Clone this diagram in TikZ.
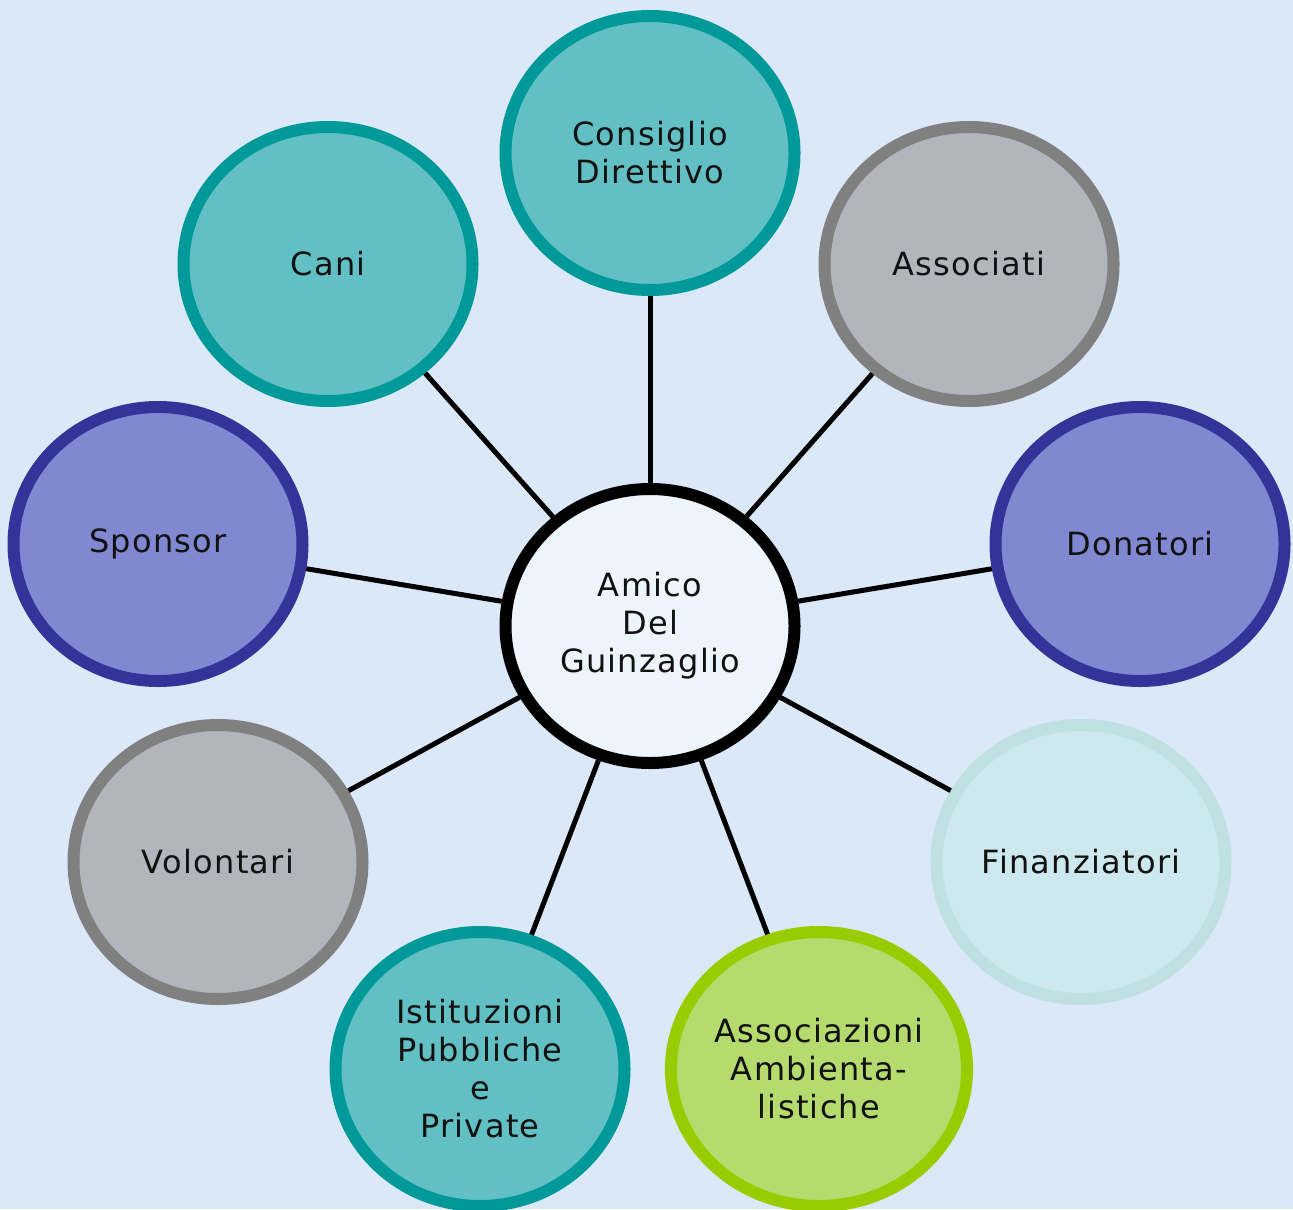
\documentclass[tikz,border=0pt]{standalone}
\usepackage{fontspec}
\setmainfont{DejaVu Sans}[LetterSpace=4]
\usetikzlibrary{shapes.geometric}
\definecolor{bg}{HTML}{DAE8F7}
\definecolor{tealB}{HTML}{009999}
\definecolor{tealF}{HTML}{62C0C4}
\definecolor{grayB}{HTML}{808080}
\definecolor{grayF}{HTML}{B2B6BC}
\definecolor{blueB}{HTML}{333399}
\definecolor{blueF}{HTML}{8088D2}
\definecolor{paleB}{HTML}{BFE1E1}
\definecolor{paleF}{HTML}{CDE8EE}
\definecolor{greenB}{HTML}{99CC00}
\definecolor{greenF}{HTML}{B5DA6E}
\definecolor{centF}{HTML}{EEF4FC}
\definecolor{txt}{HTML}{111111}
\tikzset{
  bubble/.style={ellipse, minimum width=144.5pt, minimum height=137pt, inner sep=0pt,
    line width=6pt, align=center, text=txt, font={\fontsize{16}{19}\selectfont}},
  teal/.style={bubble, draw=tealB, fill=tealF},
  grey/.style={bubble, draw=grayB, fill=grayF},
  blu/.style={bubble, draw=blueB, fill=blueF},
  pale/.style={bubble, draw=paleB, fill=paleF},
  grn/.style={bubble, draw=greenB, fill=greenF},
  hub/.style={bubble, draw=black, fill=centF},
  spoke/.style={line width=2.5pt, draw=black}
}
\begin{document}
\begin{tikzpicture}[x=0.5pt, y=-0.5pt]
\fill[bg] (0,0) rectangle (1293,1209);
\useasboundingbox (0,0) rectangle (1293,1209);
\node[hub] (c) at (650,626) {Amico\\Del\\Guinzaglio};
\node[teal] (cd) at (650,153) {Consiglio\\Direttivo};
\node[teal] (cani) at (328,264) {Cani};
\node[grey] (ass) at (969,264) {Associati};
\node[blu] (sp) at (158,544) {Sponsor};
\node[blu] (don) at (1140,544) {Donatori};
\node[grey] (vol) at (218,862) {Volontari};
\node[pale] (fin) at (1081,862) {Finanziatori};
\node[teal] (ist) at (480,1069) {Istituzioni\\Pubbliche\\e\\Private};
\node[grn] (amb) at (819,1069) {Associazioni\\Ambienta-\\listiche};
\foreach \n in {cd,cani,ass,sp,don,vol,fin,ist,amb}
  \draw[spoke] (c) -- (\n);
\end{tikzpicture}
\end{document}
